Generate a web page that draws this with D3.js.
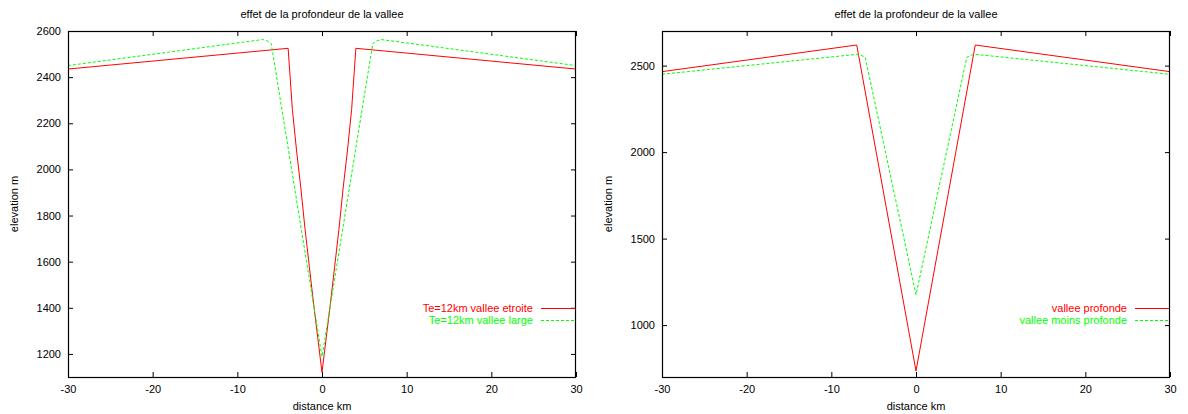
<!DOCTYPE html>
<html>
<head>
<meta charset="utf-8">
<script src="https://cdn.jsdelivr.net/npm/d3@7"></script>
<style>
  html, body { margin: 0; padding: 0; background: #fff; }
  svg text { font-family: "Liberation Sans", Arial, Helvetica, sans-serif; font-size: 11px; fill: #000; }
</style>
</head>
<body>
<svg id="chart" width="1188" height="414"></svg>
<script>
// ---- data ----
const titleText = "effet de la profondeur de la vallee";
const xLabel = "distance km";
const yLabel = "elevation m";
const xTicks = [-30, -20, -10, 0, 10, 20, 30];

// left panel
const leftYTicks = [1200, 1400, 1600, 1800, 2000, 2200, 2400, 2600];
const leftNames = ["Te=12km vallee etroite", "Te=12km vallee large"];
const leftRedX = [-30, -4, -3.5, -3, -2.5, -2, -1.5, -1, -0.5, 0, 0.5, 1, 1.5, 2, 2.5, 3, 3.5, 4, 30];
const leftRedY = [2435, 2525, 2260, 2080, 1920, 1740, 1580, 1420, 1270, 1120, 1270, 1420, 1580, 1740, 1920, 2080, 2260, 2525, 2435];
const leftGreenX = [-30, -7, -6.5, -6, 0, 6, 6.5, 7, 30];
const leftGreenY = [2450, 2563, 2558, 2546, 1188, 2546, 2558, 2563, 2450];

// right panel
const rightYTicks = [1000, 1500, 2000, 2500];
const rightNames = ["vallee profonde", "vallee moins profonde"];
const rightRedX = [-30, -7, 0, 7, 30];
const rightRedY = [2465, 2619, 735, 2619, 2465];
const rightGreenX = [-30, -7, -6.5, -6, 0, 6, 6.5, 7, 30];
const rightGreenY = [2450, 2565, 2560, 2548, 1175, 2548, 2560, 2565, 2450];

// ---- drawing ----
const svg = d3.select("#chart");
const fmt = d => String(d); // ASCII hyphen-minus, as in the reference

function panel(opts) {
  const { x0, x1, y0, y1, yDomain, yTicks, series, names } = opts;
  const g = svg.append("g");
  const x = d3.scaleLinear().domain([-30, 30]).range([x0, x1]);
  const y = d3.scaleLinear().domain(yDomain).range([y1, y0]);

  // axes (ticks inward, mirrored)
  g.append("g").attr("transform", `translate(0,${y1})`)
    .call(d3.axisBottom(x).tickValues(xTicks).tickSizeInner(-5).tickSizeOuter(0).tickPadding(8).tickFormat(fmt));
  g.append("g").attr("transform", `translate(0,${y0})`)
    .call(d3.axisTop(x).tickValues(xTicks).tickSizeInner(-5).tickSizeOuter(0).tickFormat(""));
  g.append("g").attr("transform", `translate(${x0},0)`)
    .call(d3.axisLeft(y).tickValues(yTicks).tickSizeInner(-5).tickSizeOuter(0).tickPadding(7).tickFormat(fmt));
  g.append("g").attr("transform", `translate(${x1},0)`)
    .call(d3.axisRight(y).tickValues(yTicks).tickSizeInner(-5).tickSizeOuter(0).tickFormat(""));
  g.selectAll(".domain").remove();
  g.selectAll(".tick line").attr("stroke", "#000");
  g.selectAll(".tick text").style("font-size", "11px");

  // lines
  const line = d3.line().x(d => x(d[0])).y(d => y(d[1]));
  series.forEach(s => {
    const pts = s.xs.map((v, i) => [v, s.ys[i]]);
    g.append("path").datum(pts)
      .attr("d", line)
      .attr("fill", "none")
      .attr("stroke", s.color)
      .attr("stroke-width", 1)
      .attr("stroke-dasharray", s.dash || null);
  });

  // border
  g.append("rect").attr("x", x0 + 0.5).attr("y", y0 + 0.5)
    .attr("width", x1 - x0 - 1).attr("height", y1 - y0)
    .attr("fill", "none").attr("stroke", "#000").attr("stroke-width", 1.2);

  // title
  g.append("text").attr("x", (x0 + x1) / 2).attr("y", 18)
    .attr("text-anchor", "middle").text(titleText);
  // x label
  g.append("text").attr("x", (x0 + x1) / 2).attr("y", 410)
    .attr("text-anchor", "middle").text(xLabel);
  // y label
  g.append("text").attr("transform", `translate(${x0 - 50},${(y0 + y1) / 2}) rotate(-90)`)
    .attr("text-anchor", "middle").text(yLabel);

  // legend
  series.forEach((s, i) => {
    const ly = 308 + i * 12;
    g.append("text").attr("x", x1 - 43).attr("y", ly + 4)
      .attr("text-anchor", "end").style("fill", s.color).text(names[i]);
    g.append("line").attr("x1", x1 - 35).attr("x2", x1 - 1)
      .attr("y1", ly + 0.5).attr("y2", ly + 0.5)
      .attr("stroke", s.color).attr("stroke-width", 1)
      .attr("stroke-dasharray", s.dash || null);
  });
}

panel({
  x0: 68, x1: 576, y0: 31, y1: 377,
  yDomain: [1100, 2600], yTicks: leftYTicks, names: leftNames,
  series: [
    { xs: leftRedX, ys: leftRedY, color: "#ff0000" },
    { xs: leftGreenX, ys: leftGreenY, color: "#00ff00", dash: "3,2" }
  ]
});
panel({
  x0: 662, x1: 1170, y0: 31, y1: 377,
  yDomain: [700, 2700], yTicks: rightYTicks, names: rightNames,
  series: [
    { xs: rightRedX, ys: rightRedY, color: "#ff0000" },
    { xs: rightGreenX, ys: rightGreenY, color: "#00ff00", dash: "3,2" }
  ]
});
</script>
</body>
</html>
